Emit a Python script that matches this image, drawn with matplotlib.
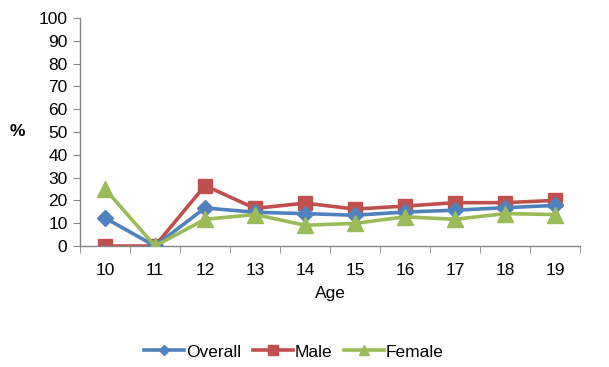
import numpy as np
import matplotlib.pyplot as plt
from matplotlib.ticker import FixedLocator

plt.rcParams['font.family'] = ['Liberation Sans', 'DejaVu Sans']

ages = ['10', '11', '12', '13', '14', '15', '16', '17', '18', '19']
overall = [12.3, 0, 16.7, 14.8, 14.2, 13.5, 14.9, 15.7, 16.8, 17.8]
male = [0, 0, 26.5, 16.5, 18.8, 16.2, 17.5, 19.0, 19.0, 20.0]
female = [25, 0, 11.7, 13.8, 9.1, 9.9, 12.8, 11.7, 14.2, 13.8]

fig = plt.figure(figsize=(6.09, 3.67), dpi=100)
ax = fig.add_axes([80/609, 1-246/367, 500/609, 228/367])

x = np.arange(len(ages))
ax.plot(x, overall, color='#4F81BD', lw=2.6, marker='D', ms=8, label='Overall', zorder=3)
ax.plot(x, male, color='#C0504D', lw=2.6, marker='s', ms=10, label='Male', zorder=2)
ax.plot(x, female, color='#9BBB59', lw=2.6, marker='^', ms=11, label='Female', zorder=4)

ax.set_xlim(-0.5, len(ages) - 0.5)
ax.set_ylim(0, 100)
ax.set_yticks(range(0, 101, 10))
ax.set_xticks(x)
ax.set_xticklabels(ages)
ax.xaxis.set_minor_locator(FixedLocator(np.arange(-0.5, len(ages), 1.0)))
ax.tick_params(axis='x', which='major', length=0, pad=12, labelsize=12.5)
ax.tick_params(axis='x', which='minor', length=5, color='#868686', direction='out')
ax.tick_params(axis='y', length=5, color='#868686', labelsize=12.5, pad=4)

for s in ['top', 'right']:
    ax.spines[s].set_visible(False)
for s in ['left', 'bottom']:
    ax.spines[s].set_color('#868686')
    ax.spines[s].set_linewidth(1.0)

ax.set_xlabel('Age', fontsize=12.5, labelpad=6)
fig.text(10/609, 1-132/367, '%', fontsize=12.5, fontweight='bold', ha='left', va='center')

fig.legend(loc='center', bbox_to_anchor=(294/609, 1-352/367), ncol=3, frameon=False,
           fontsize=12.5, handlelength=2.3, handletextpad=0.1, columnspacing=0.7,
           markerscale=0.7)

fig.savefig('out.png', dpi=100)
